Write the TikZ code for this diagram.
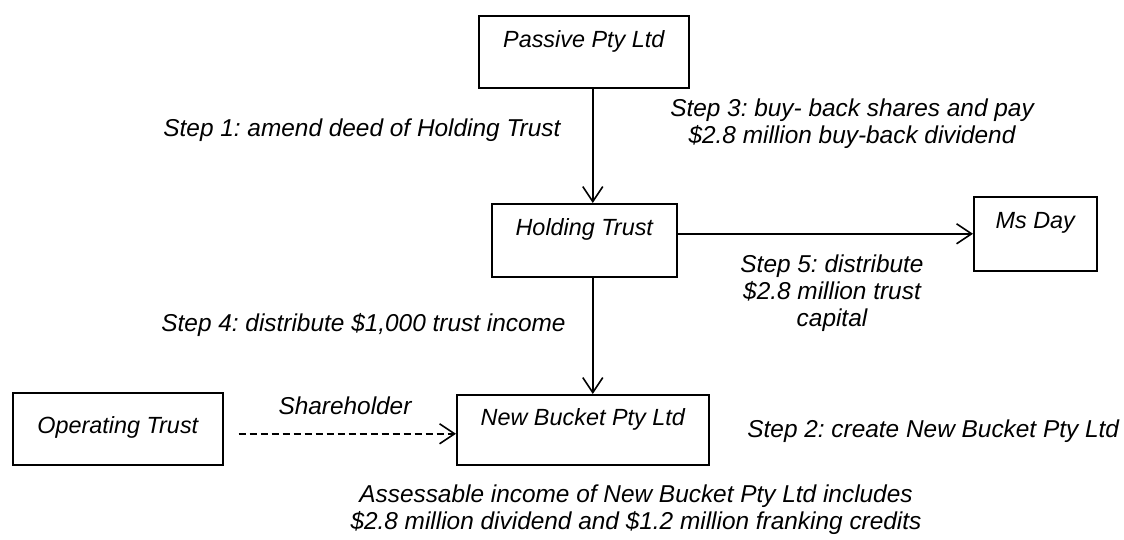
\documentclass[tikz,border=0pt]{standalone}
\usepackage{fontspec}
\setmainfont{Liberation Sans}
\usetikzlibrary{calc}
\usetikzlibrary{arrows.meta}
\frenchspacing

\tikzset{
  party/.style={draw, thick, anchor=north west, inner sep=0pt,
    font=\fontsize{11.7}{14}\selectfont\itshape, text height=16pt, text depth=20pt},
  steptext/.style={font=\fontsize{12.2}{13.5}\selectfont\itshape, inner sep=0pt, align=center},
  flow/.style={thick, -{Straight Barb[length=7.5pt,width=10pt]}},
}

\begin{document}
\begin{tikzpicture}[x=0.5pt, y=-0.5pt]
\useasboundingbox (0,0) rectangle (1124,540);

% the parties
\node[party, minimum width=105pt] (passive) at (478,15) {Passive Pty Ltd};
\node[party, minimum width=92.5pt, text depth=20.5pt] (holding) at (491,203) {Holding Trust};
\node[party, minimum width=61.5pt, text depth=21pt] (msday) at (973,196) {Ms Day};
\node[party, minimum width=105pt, text height=20.5pt, text depth=15.5pt] (operating) at (12,392) {Operating Trust};
\node[party, minimum width=126pt, text height=15.5pt, text depth=19.5pt] (bucket) at (456,394) {New Bucket Pty Ltd};

% the flows
\draw[flow] ([xshift=4.5pt]passive.south) -- ([xshift=4.5pt]passive.south |- holding.north);
\draw[flow] ([xshift=4.25pt]holding.south) -- ([xshift=4.25pt]holding.south |- bucket.north);
\draw[flow] (holding.east |- msday.west) -- (msday.west);
\draw[flow, dash pattern=on 3.5pt off 2pt] ([shift={(7.5pt,-2.5pt)}]operating.east) -- ([yshift=-2.5pt]operating.east -| bucket.west);

% the steps
\node[steptext, anchor=west] (step1) at (163,130) {Step 1: amend deed of Holding Trust};
\node[steptext] (step3) at (852,124) {Step 3: buy- back shares and pay\\\$2.8 million buy-back dividend};
\node[steptext] (step5) at (832,293) {Step 5: distribute\\\$2.8 million trust\\capital};
\node[steptext, anchor=west] (step4) at (161,325) {Step 4: distribute \$1,000 trust income};
\node[steptext] (share) at (345,406) {Shareholder};
\node[steptext, anchor=west] (step2) at (747,431) {Step 2: create New Bucket Pty Ltd};
\node[steptext] (assess) at (636,510) {Assessable income of New Bucket Pty Ltd includes\\\$2.8 million dividend and \$1.2 million franking credits};
\end{tikzpicture}
\end{document}
